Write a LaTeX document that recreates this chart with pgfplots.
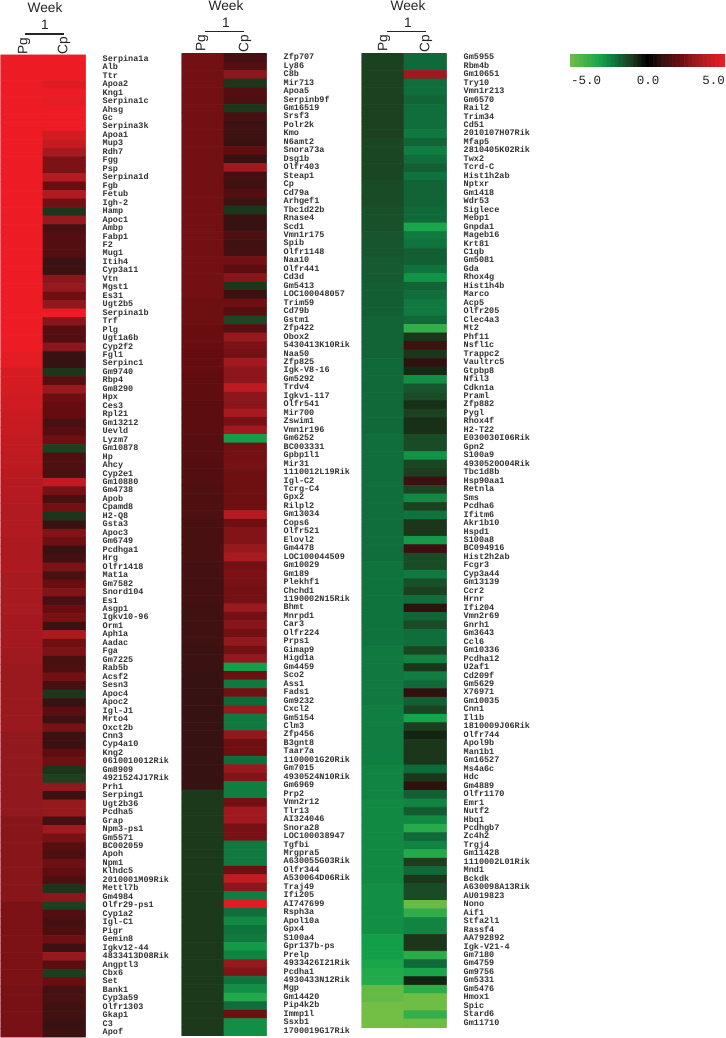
\documentclass[border=0pt]{standalone}
\usepackage{fontspec}
\usepackage{pgfplots}
\pgfplotsset{compat=1.18}
\setmainfont{Liberation Sans}
\newfontfamily\genefont{Liberation Mono}
\pgfplotsset{
 colormap={hm}{rgb255(0)=(115,190,68) rgb255(2)=(20,165,75) rgb255(3)=(15,110,60) rgb255(4)=(30,60,30) rgb255(5)=(0,0,0) rgb255(6)=(55,18,18) rgb255(7)=(100,12,15) rgb255(8)=(150,25,30) rgb255(10)=(237,28,36)},
 hmaxis/.style={
  scale only axis, anchor=north west, width=85bp,
  y dir=reverse, xmin=-0.5, xmax=1.5, ymin=-0.5,
  axis line style={draw=none}, tick style={draw=none}, xtick=\empty,
  yticklabel pos=right, point meta min=-5, point meta max=5, colormap name=hm,
  y tick label style={font=\genefont\fontsize{8.5bp}{9bp}\selectfont\bfseries, anchor=west, inner sep=0pt, xshift=17bp, text height=5bp, text depth=1bp, text=black!80},
  clip=true
 },
 hmplot/.style={matrix plot*, shader=faceted, faceted color=mapped color, line width=0.6bp, mesh/cols=2, point meta=explicit}
}
\begin{document}
\begin{tikzpicture}[x=1bp,y=1bp]
\path[use as bounding box,fill=white] (0,0) rectangle (726,1038);
% panel 1
\begin{axis}[hmaxis, at={(0.5bp,983bp)}, height=982bp, ymax=115.5, ytick={0,...,115},
yticklabels={Serpina1a,Alb,Ttr,Apoa2,Kng1,Serpina1c,Ahsg,Gc,Serpina3k,Apoa1,Mup3,Rdh7,Fgg,Psp,Serpina1d,Fgb,Fetub,Igh-2,Hamp,Apoc1,Ambp,Fabp1,F2,Mug1,Itih4,Cyp3a11,Vtn,Mgst1,Es31,Ugt2b5,Serpina1b,Trf,Plg,Ugt1a6b,Cyp2f2,Fgl1,Serpinc1,Gm9740,Rbp4,Gm8290,Hpx,Ces3,Rpl21,Gm13212,Uevld,Lyzm7,Gm10878,Hp,Ahcy,Cyp2e1,Gm10880,Gm4738,Apob,Cpamd8,H2-Q8,Gsta3,Apoc3,Gm6749,Pcdhga1,Hrg,Olfr1418,Mat1a,Gm7582,Snord104,Es1,Asgp1,Igkv10-96,Orm1,Aph1a,Aadac,Fga,Gm7225,Rab5b,Acsf2,Sesn3,Apoc4,Apoc2,Igl-J1,Mrto4,Oxct2b,Cnn3,Cyp4a10,Kng2,0610010012Rik,Gm8909,4921524J17Rik,Prh1,Serping1,Ugt2b36,Pcdha5,Grap,Npm3-ps1,Gm5571,BC002059,Apoh,Npm1,Klhdc5,2010001M09Rik,Mettl7b,Gm4984,Olfr29-ps1,Cyp1a2,Igl-C1,Pigr,Gemin8,Igkv12-44,4833413D08Rik,Angptl3,Cbx6,Set,Bank1,Cyp3a59,Olfr1303,Gkap1,C3,Apof}]
\addplot[hmplot] coordinates {
(0,0)[5](1,0)[5](0,1)[5](1,1)[5](0,2)[5](1,2)[5](0,3)[5](1,3)[4.7](0,4)[5](1,4)[5]
(0,5)[5](1,5)[4.8](0,6)[5](1,6)[5](0,7)[5](1,7)[5](0,8)[5](1,8)[5](0,9)[5](1,9)[4.4]
(0,10)[5](1,10)[4.1](0,11)[5](1,11)[3.4](0,12)[5](1,12)[2.5](0,13)[5](1,13)[2.5](0,14)[5](1,14)[3.7]
(0,15)[5](1,15)[2.1](0,16)[5](1,16)[3.6](0,17)[5](1,17)[2.3](0,18)[5](1,18)[-0.9](0,19)[5](1,19)[3.0]
(0,20)[5](1,20)[1.4](0,21)[5](1,21)[1.6](0,22)[5](1,22)[1.6](0,23)[5](1,23)[1.6](0,24)[5](1,24)[1.1]
(0,25)[5](1,25)[1.1](0,26)[5](1,26)[2.8](0,27)[5](1,27)[3.0](0,28)[5](1,28)[2.2](0,29)[5](1,29)[2.9]
(0,30)[5](1,30)[5](0,31)[5](1,31)[2.7](0,32)[5](1,32)[1.7](0,33)[5](1,33)[1.6](0,34)[5](1,34)[2.8]
(0,35)[4.8](1,35)[1.0](0,36)[4.8](1,36)[1.0](0,37)[4.5](1,37)[-0.9](0,38)[4.5](1,38)[1.7](0,39)[4.4](1,39)[3.1]
(0,40)[4.3](1,40)[2.2](0,41)[4.3](1,41)[2.0](0,42)[4.2](1,42)[2.0](0,43)[4.1](1,43)[1.4](0,44)[4.1](1,44)[1.7]
(0,45)[4.0](1,45)[2.2](0,46)[4.0](1,46)[-1.1](0,47)[3.9](1,47)[1.5](0,48)[3.9](1,48)[1.5](0,49)[3.8](1,49)[1.4]
(0,50)[3.7](1,50)[4.0](0,51)[3.7](1,51)[2.4](0,52)[3.7](1,52)[1.4](0,53)[3.6](1,53)[2.3](0,54)[3.6](1,54)[-0.9]
(0,55)[3.6](1,55)[1.0](0,56)[3.6](1,56)[2.6](0,57)[3.5](1,57)[2.2](0,58)[3.5](1,58)[1.0](0,59)[3.5](1,59)[1.3]
(0,60)[3.5](1,60)[2.5](0,61)[3.4](1,61)[1.4](0,62)[3.4](1,62)[2.1](0,63)[3.4](1,63)[2.6](0,64)[3.4](1,64)[1.4]
(0,65)[3.4](1,65)[2.1](0,66)[3.3](1,66)[2.4](0,67)[3.3](1,67)[1.1](0,68)[3.3](1,68)[3.5](0,69)[3.3](1,69)[2.2]
(0,70)[3.2](1,70)[2.5](0,71)[3.2](1,71)[1.4](0,72)[3.1](1,72)[1.5](0,73)[3.1](1,73)[2.3](0,74)[3.1](1,74)[1.3]
(0,75)[3.1](1,75)[-0.9](0,76)[3.1](1,76)[1.0](0,77)[3.1](1,77)[1.8](0,78)[3.1](1,78)[1.1](0,79)[3.1](1,79)[2.4]
(0,80)[2.9](1,80)[1.1](0,81)[2.9](1,81)[1.1](0,82)[2.9](1,82)[1.9](0,83)[2.9](1,83)[2.2](0,84)[2.9](1,84)[-0.9]
(0,85)[2.9](1,85)[-1.1](0,86)[2.9](1,86)[2.9](0,87)[2.9](1,87)[1.1](0,88)[2.9](1,88)[3.0](0,89)[2.9](1,89)[3.0]
(0,90)[2.7](1,90)[1.3](0,91)[2.7](1,91)[3.2](0,92)[2.7](1,92)[2.4](0,93)[2.7](1,93)[1.7](0,94)[2.7](1,94)[1.5]
(0,95)[2.7](1,95)[2.2](0,96)[2.7](1,96)[1.9](0,97)[2.7](1,97)[1.5](0,98)[2.7](1,98)[-0.9](0,99)[2.7](1,99)[2.8]
(0,100)[2.5](1,100)[-1.1](0,101)[2.5](1,101)[1.6](0,102)[2.5](1,102)[1.3](0,103)[2.5](1,103)[1.5](0,104)[2.5](1,104)[2.2]
(0,105)[2.5](1,105)[1.1](0,106)[2.5](1,106)[3.0](0,107)[2.5](1,107)[1.8](0,108)[2.5](1,108)[-1.0](0,109)[2.5](1,109)[2.1]
(0,110)[2.4](1,110)[1.3](0,111)[2.4](1,111)[1.4](0,112)[2.4](1,112)[1.2](0,113)[2.4](1,113)[1.2](0,114)[2.4](1,114)[1.0]
(0,115)[2.4](1,115)[1.1]
};
\end{axis}
% panel 2
\begin{axis}[hmaxis, at={(181.5bp,984.5bp)}, height=982bp, ymax=115.5, ytick={0,...,115},
yticklabels={Zfp707,Ly86,C8b,Mir713,Apoa5,Serpinb9f,Gm16519,Srsf3,Polr2k,Kmo,N6amt2,Snora73a,Dsg1b,Olfr403,Steap1,Cp,Cd79a,Arhgef1,Tbc1d22b,Rnase4,Scd1,Vmn1r175,Spib,Olfr1148,Naa10,Olfr441,Cd3d,Gm5413,LOC100048057,Trim59,Cd79b,Gstm1,Zfp422,Obox2,5430413K10Rik,Naa50,Zfp825,Igk-V8-16,Gm5292,Trdv4,Igkv1-117,Olfr541,Mir700,Zswim1,Vmn1r196,Gm6252,BC003331,Gpbp1l1,Mir31,1110012L19Rik,Igl-C2,Tcrg-C4,Gpx2,Rilpl2,Gm13034,Cops6,Olfr521,Elovl2,Gm4478,LOC100044509,Gm10029,Gm189,Plekhf1,Chchd1,1190002N15Rik,Bhmt,Mnrpd1,Car3,Olfr224,Prps1,Gimap9,Higd1a,Gm4459,Sco2,Ass1,Fads1,Gm9232,Cxcl2,Gm5154,Clm3,Zfp456,B3gnt8,Taar7a,1100001G20Rik,Gm7015,4930524N10Rik,Gm6969,Prp2,Vmn2r12,Tlr13,AI324046,Snora28,LOC100038947,Tgfbi,Mrgpra5,A630055G03Rik,Olfr344,A530064D06Rik,Traj49,Ifi205,AI747699,Rsph3a,Apol10a,Gpx4,S100a4,Gpr137b-ps,Prelp,4933426I21Rik,Pcdha1,4930433N12Rik,Mgp,Gm14420,Pip4k2b,Immp1l,Ssxb1,1700019G17Rik}]
\addplot[hmplot] coordinates {
(0,0)[2.3](1,0)[1.3](0,1)[2.3](1,1)[1.6](0,2)[2.3](1,2)[2.8](0,3)[2.3](1,3)[-0.9](0,4)[2.3](1,4)[1.6]
(0,5)[2.3](1,5)[1.5](0,6)[2.3](1,6)[-0.9](0,7)[2.3](1,7)[1.4](0,8)[2.3](1,8)[1.1](0,9)[2.3](1,9)[1.2]
(0,10)[2.3](1,10)[1.1](0,11)[2.3](1,11)[1.9](0,12)[2.3](1,12)[1.0](0,13)[2.3](1,13)[3.2](0,14)[2.3](1,14)[1.3]
(0,15)[2.3](1,15)[1.2](0,16)[2.3](1,16)[1.6](0,17)[2.3](1,17)[1.1](0,18)[2.3](1,18)[-0.9](0,19)[2.3](1,19)[1.0]
(0,20)[2.3](1,20)[1.0](0,21)[2.3](1,21)[1.5](0,22)[2.3](1,22)[1.2](0,23)[2.3](1,23)[1.3](0,24)[2.3](1,24)[2.3]
(0,25)[2.3](1,25)[1.8](0,26)[2.3](1,26)[2.7](0,27)[2.3](1,27)[-0.9](0,28)[2.3](1,28)[1.1](0,29)[2.2](1,29)[2.2]
(0,30)[2.2](1,30)[1.7](0,31)[2.2](1,31)[-1.2](0,32)[2.1](1,32)[1.7](0,33)[2.1](1,33)[3.0](0,34)[2.1](1,34)[2.5]
(0,35)[2.0](1,35)[2.3](0,36)[2.0](1,36)[3.3](0,37)[2.0](1,37)[2.8](0,38)[1.9](1,38)[2.8](0,39)[1.9](1,39)[3.9]
(0,40)[1.9](1,40)[2.8](0,41)[1.8](1,41)[2.7](0,42)[1.8](1,42)[3.4](0,43)[1.8](1,43)[2.4](0,44)[1.8](1,44)[3.2]
(0,45)[1.7](1,45)[-2.9](0,46)[1.7](1,46)[2.3](0,47)[1.7](1,47)[2.3](0,48)[1.6](1,48)[2.4](0,49)[1.6](1,49)[2.2]
(0,50)[1.6](1,50)[2.2](0,51)[1.5](1,51)[2.2](0,52)[1.5](1,52)[2.2](0,53)[1.5](1,53)[2.2](0,54)[1.5](1,54)[3.7]
(0,55)[1.4](1,55)[2.2](0,56)[1.4](1,56)[2.6](0,57)[1.4](1,57)[2.6](0,58)[1.4](1,58)[3.0](0,59)[1.4](1,59)[3.4]
(0,60)[1.3](1,60)[2.3](0,61)[1.3](1,61)[2.5](0,62)[1.3](1,62)[2.4](0,63)[1.3](1,63)[2.3](0,64)[1.3](1,64)[2.3]
(0,65)[1.2](1,65)[3.1](0,66)[1.2](1,66)[2.3](0,67)[1.2](1,67)[2.7](0,68)[1.2](1,68)[2.3](0,69)[1.2](1,69)[2.9]
(0,70)[1.1](1,70)[2.3](0,71)[1.1](1,71)[2.9](0,72)[1.1](1,72)[-2.9](0,73)[1.0](1,73)[2.2](0,74)[1.0](1,74)[-2.2]
(0,75)[1.0](1,75)[2.3](0,76)[1.0](1,76)[-1.9](0,77)[1.0](1,77)[3.0](0,78)[1.0](1,78)[-2.2](0,79)[1.0](1,79)[-2.2]
(0,80)[1.0](1,80)[2.9](0,81)[1.0](1,81)[2.2](0,82)[1.0](1,82)[2.2](0,83)[1.0](1,83)[-2.0](0,84)[1.0](1,84)[3.0]
(0,85)[1.0](1,85)[2.6](0,86)[1.0](1,86)[-2.3](0,87)[-0.95](1,87)[-2.3](0,88)[-0.95](1,88)[2.3](0,89)[-0.95](1,89)[3.2]
(0,90)[-0.95](1,90)[3.2](0,91)[-0.95](1,91)[2.4](0,92)[-0.95](1,92)[2.4](0,93)[-0.95](1,93)[-2.2](0,94)[-0.95](1,94)[-2.2]
(0,95)[-0.95](1,95)[-2.2](0,96)[-0.95](1,96)[2.2](0,97)[-0.95](1,97)[4.0](0,98)[-0.95](1,98)[2.8](0,99)[-0.95](1,99)[-2.3]
(0,100)[-0.95](1,100)[4.7](0,101)[-0.95](1,101)[-2.0](0,102)[-0.95](1,102)[-2.5](0,103)[-0.95](1,103)[-2.1](0,104)[-0.95](1,104)[-2.2]
(0,105)[-0.95](1,105)[-2.8](0,106)[-0.95](1,106)[-2.4](0,107)[-0.95](1,107)[3.0](0,108)[-0.95](1,108)[2.6](0,109)[-0.95](1,109)[-2.1]
(0,110)[-0.95](1,110)[-2.6](0,111)[-0.95](1,111)[-3.3](0,112)[-0.95](1,112)[-2.0](0,113)[-0.95](1,113)[2.2](0,114)[-0.95](1,114)[-2.6]
(0,115)[-0.95](1,115)[-2.6]
};
\end{axis}
% panel 3
\begin{axis}[hmaxis, at={(361.5bp,984.5bp)}, height=974bp, ymax=114.5, ytick={0,...,114},
yticklabels={Gm5955,Rbm4b,Gm10651,Try10,Vmn1r213,Gm6570,Rail2,Trim34,Cd51,2010107H07Rik,Mfap5,2810405K02Rik,Twx2,Tcrd-C,Hist1h2ab,Nptxr,Gm1418,Wdr53,Siglece,Mebp1,Gnpda1,Mageb16,Krt81,C1qb,Gm5081,Gda,Rhox4g,Hist1h4b,Marco,Acp5,Olfr205,Clec4a3,Mt2,Phf11,Nsfl1c,Trappc2,Vaultrc5,Gtpbp8,Nfil3,Cdkn1a,Praml,Zfp882,Pygl,Rhox4f,H2-T22,E030030I06Rik,Gpn2,S100a9,4930520O04Rik,Tbc1d8b,Hsp90aa1,Retnla,Sms,Pcdha6,Ifitm6,Akr1b10,Hspd1,S100a8,BC094916,Hist2h2ab,Fcgr3,Cyp3a44,Gm13139,Ccr2,Hrnr,Ifi204,Vmn2r69,Gnrh1,Gm3643,Ccl6,Gm10336,Pcdha12,U2af1,Cd209f,Gm5629,X76971,Gm10035,Cnn1,Il1b,1810009J06Rik,Olfr744,Apol9b,Man1b1,Gm16527,Ms4a6c,Hdc,Gm4889,Olfr1170,Emr1,Nutf2,Hbq1,Pcdhgb7,Zc4h2,Trgj4,Gm11428,1110002L01Rik,Mnd1,Bckdk,A630098A13Rik,AU019823,Nono,Aif1,Stfa2l1,Rassf4,AA792892,Igk-V21-4,Gm7180,Gm4759,Gm9756,Gm5331,Gm5476,Hmox1,Spic,Stard6,Gm11710}]
\addplot[hmplot] coordinates {
(0,0)[-1.1](1,0)[-1.9](0,1)[-1.1](1,1)[-1.9](0,2)[-1.1](1,2)[3.2](0,3)[-1.1](1,3)[-2.0](0,4)[-1.1](1,4)[-2.0]
(0,5)[-1.1](1,5)[-1.8](0,6)[-1.1](1,6)[-2.0](0,7)[-1.1](1,7)[-2.0](0,8)[-1.1](1,8)[-2.0](0,9)[-1.1](1,9)[-2.2]
(0,10)[-1.2](1,10)[-1.8](0,11)[-1.2](1,11)[-2.3](0,12)[-1.2](1,12)[-2.0](0,13)[-1.2](1,13)[-1.7](0,14)[-1.2](1,14)[-2.1]
(0,15)[-1.3](1,15)[-1.8](0,16)[-1.3](1,16)[-1.8](0,17)[-1.3](1,17)[-1.8](0,18)[-1.4](1,18)[-1.9](0,19)[-1.4](1,19)[-1.9]
(0,20)[-1.4](1,20)[-3.1](0,21)[-1.5](1,21)[-2.2](0,22)[-1.5](1,22)[-2.1](0,23)[-1.5](1,23)[-1.7](0,24)[-1.6](1,24)[-1.7]
(0,25)[-1.6](1,25)[-2.1](0,26)[-1.6](1,26)[-2.7](0,27)[-1.7](1,27)[-1.8](0,28)[-1.7](1,28)[-2.0](0,29)[-1.7](1,29)[-2.2]
(0,30)[-1.7](1,30)[-2.2](0,31)[-1.8](1,31)[-1.9](0,32)[-1.8](1,32)[-3.7](0,33)[-1.8](1,33)[-0.9](0,34)[-1.8](1,34)[1.2]
(0,35)[-1.8](1,35)[-0.9](0,36)[-1.9](1,36)[0.9](0,37)[-1.9](1,37)[-0.7](0,38)[-1.9](1,38)[-2.6](0,39)[-1.9](1,39)[-1.5]
(0,40)[-1.9](1,40)[-1.3](0,41)[-1.9](1,41)[-0.8](0,42)[-1.9](1,42)[-1.1](0,43)[-1.9](1,43)[-0.8](0,44)[-1.9](1,44)[-0.8]
(0,45)[-2.0](1,45)[-1.3](0,46)[-2.0](1,46)[-1.3](0,47)[-2.0](1,47)[-2.7](0,48)[-2.0](1,48)[-1.2](0,49)[-2.0](1,49)[-1.0]
(0,50)[-2.0](1,50)[1.1](0,51)[-2.0](1,51)[-1.2](0,52)[-2.0](1,52)[-2.5](0,53)[-2.0](1,53)[-1.1](0,54)[-2.0](1,54)[-2.1]
(0,55)[-2.0](1,55)[-0.9](0,56)[-2.0](1,56)[-0.9](0,57)[-2.0](1,57)[-2.8](0,58)[-2.0](1,58)[1.1](0,59)[-2.0](1,59)[-1.3]
(0,60)[-2.1](1,60)[-1.3](0,61)[-2.1](1,61)[-2.2](0,62)[-2.1](1,62)[-1.4](0,63)[-2.1](1,63)[-1.1](0,64)[-2.1](1,64)[-2.0]
(0,65)[-2.1](1,65)[0.9](0,66)[-2.1](1,66)[-1.8](0,67)[-2.1](1,67)[-1.3](0,68)[-2.1](1,68)[-2.0](0,69)[-2.1](1,69)[-2.0]
(0,70)[-2.2](1,70)[-1.2](0,71)[-2.2](1,71)[-2.4](0,72)[-2.2](1,72)[-0.9](0,73)[-2.2](1,73)[-2.3](0,74)[-2.2](1,74)[-1.9]
(0,75)[-2.2](1,75)[0.9](0,76)[-2.2](1,76)[-1.7](0,77)[-2.3](1,77)[-1.2](0,78)[-2.3](1,78)[-3.0](0,79)[-2.3](1,79)[-1.0]
(0,80)[-2.3](1,80)[-0.6](0,81)[-2.3](1,81)[-0.9](0,82)[-2.3](1,82)[-0.9](0,83)[-2.3](1,83)[-0.9](0,84)[-2.4](1,84)[-1.9]
(0,85)[-2.4](1,85)[-0.9](0,86)[-2.4](1,86)[0.9](0,87)[-2.4](1,87)[-1.7](0,88)[-2.5](1,88)[-2.4](0,89)[-2.5](1,89)[-1.6]
(0,90)[-2.5](1,90)[-2.5](0,91)[-2.5](1,91)[-3.4](0,92)[-2.5](1,92)[-1.9](0,93)[-2.5](1,93)[-2.4](0,94)[-2.5](1,94)[-3.3]
(0,95)[-2.5](1,95)[-1.0](0,96)[-2.5](1,96)[-1.9](0,97)[-2.5](1,97)[-0.9](0,98)[-2.6](1,98)[-1.3](0,99)[-2.6](1,99)[-1.3]
(0,100)[-2.6](1,100)[-4.8](0,101)[-2.6](1,101)[-3.6](0,102)[-2.6](1,102)[-2.4](0,103)[-2.6](1,103)[-2.4](0,104)[-2.9](1,104)[-0.9]
(0,105)[-2.9](1,105)[-0.9](0,106)[-2.9](1,106)[-3.5](0,107)[-3.1](1,107)[-1.9](0,108)[-3.3](1,108)[-3.1](0,109)[-3.3](1,109)[-0.6]
(0,110)[-4.7](1,110)[-3.5](0,111)[-4.7](1,111)[-4.9](0,112)[-5](1,112)[-4.9](0,113)[-5](1,113)[-3.7](0,114)[-5](1,114)[-4.9]
};
\end{axis}
% colour scale
\begin{axis}[scale only axis, anchor=north west, at={(570bp,983bp)}, width=155bp, height=12bp,
 xmin=-5, xmax=5, ymin=0, ymax=1, axis line style={draw=none}, tick style={draw=none}, xtick=\empty, ytick=\empty,
 point meta min=-5, point meta max=5, colormap name=hm]
\addplot[matrix plot*, shader=faceted, faceted color=mapped color, line width=0.6bp, mesh/cols=41, point meta=explicit] coordinates {
(-5,0)[-5](-4.75,0)[-4.75](-4.5,0)[-4.5](-4.25,0)[-4.25](-4,0)[-4](-3.75,0)[-3.75](-3.5,0)[-3.5](-3.25,0)[-3.25](-3,0)[-3](-2.75,0)[-2.75](-2.5,0)[-2.5](-2.25,0)[-2.25](-2,0)[-2](-1.75,0)[-1.75](-1.5,0)[-1.5](-1.25,0)[-1.25](-1,0)[-1](-0.75,0)[-0.75](-0.5,0)[-0.5](-0.25,0)[-0.25](0,0)[0](0.25,0)[0.25](0.5,0)[0.5](0.75,0)[0.75](1,0)[1](1.25,0)[1.25](1.5,0)[1.5](1.75,0)[1.75](2,0)[2](2.25,0)[2.25](2.5,0)[2.5](2.75,0)[2.75](3,0)[3](3.25,0)[3.25](3.5,0)[3.5](3.75,0)[3.75](4,0)[4](4.25,0)[4.25](4.5,0)[4.5](4.75,0)[4.75](5,0)[5]
(-5,1)[-5](-4.75,1)[-4.75](-4.5,1)[-4.5](-4.25,1)[-4.25](-4,1)[-4](-3.75,1)[-3.75](-3.5,1)[-3.5](-3.25,1)[-3.25](-3,1)[-3](-2.75,1)[-2.75](-2.5,1)[-2.5](-2.25,1)[-2.25](-2,1)[-2](-1.75,1)[-1.75](-1.5,1)[-1.5](-1.25,1)[-1.25](-1,1)[-1](-0.75,1)[-0.75](-0.5,1)[-0.5](-0.25,1)[-0.25](0,1)[0](0.25,1)[0.25](0.5,1)[0.5](0.75,1)[0.75](1,1)[1](1.25,1)[1.25](1.5,1)[1.5](1.75,1)[1.75](2,1)[2](2.25,1)[2.25](2.5,1)[2.5](2.75,1)[2.75](3,1)[3](3.25,1)[3.25](3.5,1)[3.5](3.75,1)[3.75](4,1)[4](4.25,1)[4.25](4.5,1)[4.5](4.75,1)[4.75](5,1)[5]
};
\end{axis}
\begin{scope}[every node/.style={inner sep=0pt,text=black!85}]
\node[font=\genefont\fontsize{12.5bp}{13bp}\selectfont,anchor=west] at (571,958) {-5.0};
\node[font=\genefont\fontsize{12.5bp}{13bp}\selectfont] at (648,958) {0.0};
\node[font=\genefont\fontsize{12.5bp}{13bp}\selectfont,anchor=east] at (725,958) {5.0};
% headers
\foreach \wx/\lx/\rx/\px/\qx/\dy in {45/24.5/63.5/24/64/0, 226/205/244/202/245/2.5, 408/387/426/384/426/2.5}{
 \node[font=\fontsize{13.7bp}{14bp}\selectfont] at (\wx,1030+\dy) {Week};
 \node[font=\fontsize{13.7bp}{14bp}\selectfont] at (\wx,1013+\dy) {1};
 \draw[line width=1.3bp,black!85] (\lx,1004+\dy) -- (\rx,1004+\dy);
 \node[font=\fontsize{13.7bp}{14bp}\selectfont,rotate=90] at (\px,992+\dy) {Pg};
 \node[font=\fontsize{13.7bp}{14bp}\selectfont,rotate=90] at (\qx,992+\dy) {Cp};
}
\end{scope}
\end{tikzpicture}
\end{document}
